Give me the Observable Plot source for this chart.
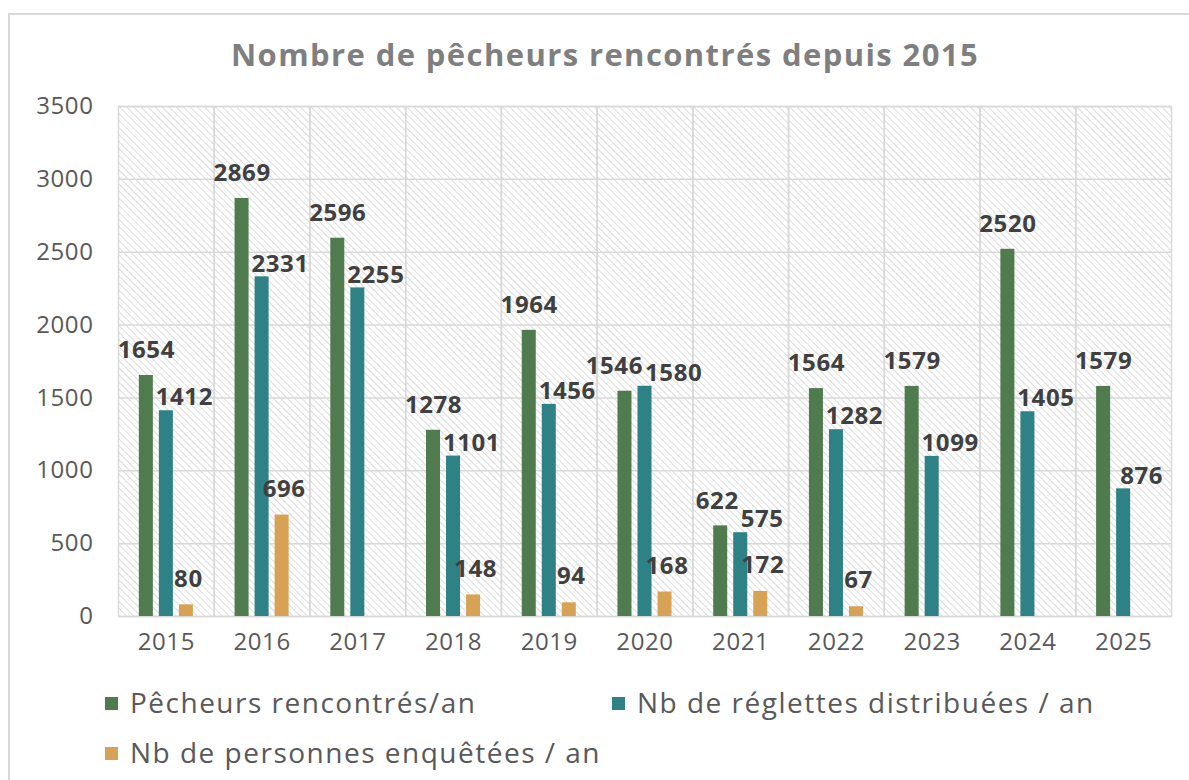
<!DOCTYPE html>
<html><head><meta charset="utf-8">
<script src="https://cdn.jsdelivr.net/npm/d3@7"></script>
<script src="https://cdn.jsdelivr.net/npm/@observablehq/plot@0.6"></script>
<style>
html,body{margin:0;padding:0;width:1189px;height:780px;overflow:hidden;background:#fff;font-family:"Open Sans",sans-serif;}
#border{position:absolute;left:8px;top:13px;width:1400px;height:1000px;border:2px solid #d9d9d9;box-sizing:border-box;}
#title{position:absolute;left:0;width:1210px;top:39px;text-align:center;font-size:31px;font-weight:700;color:#7f7f7f;line-height:1;letter-spacing:1.4px;}
#chart{position:absolute;left:0;top:80px;}
.leg{position:absolute;font-size:28px;color:#595959;line-height:1;white-space:nowrap;letter-spacing:1.5px;}
.leg span.sw{display:inline-block;width:13px;height:13px;margin-right:12px;vertical-align:middle;position:relative;top:-2px;}
</style></head>
<body>
<div id="border"></div>
<div id="title">Nombre de pêcheurs rencontrés depuis 2015</div>
<div id="chart"></div>
<div id="legend"></div>
<script>
const years = ["2015","2016","2017","2018","2019","2020","2021","2022","2023","2024","2025"];
const seriesNames = ["Pêcheurs rencontrés/an", "Nb de réglettes distribuées / an", "Nb de personnes enquêtées / an"];
const pecheurs = [1654, 2869, 2596, 1278, 1964, 1546, 622, 1564, 1579, 2520, 1579];
const reglettes = [1412, 2331, 2255, 1101, 1456, 1580, 575, 1282, 1099, 1405, 876];
const enquetes = [80, 696, null, 148, 94, 168, 172, 67, null, null, null];
const colors = ["#4f7b4f", "#2e8285", "#d8a254"];
const yTicks = [0, 500, 1000, 1500, 2000, 2500, 3000, 3500];

const seriesValues = [pecheurs, reglettes, enquetes];
const rows = years.flatMap((y, i) => seriesNames.map((s, j) => ({year: y, series: s, value: seriesValues[j][i]})))
  .filter(d => d.value != null);

const labelStyle = [{dx: 0, dy: -25}, {dx: 18, dy: -13}, {dx: 2, dy: -26}];
const labelMarks = seriesNames.map((s, j) => Plot.text(rows.filter(d => d.series === s), {
  fx: "year", x: "series", y: "value", text: d => String(d.value),
  dx: labelStyle[j].dx, dy: labelStyle[j].dy,
  fontSize: 24, fontWeight: 700, fill: "#404040"
}));

const chart = Plot.plot({
  width: 1189, height: 600,
  marginTop: 26, marginBottom: 64, marginLeft: 118, marginRight: 18,
  style: {fontFamily: '"Open Sans", sans-serif', fontSize: "24px", color: "#595959", background: "transparent", overflow: "visible", letterSpacing: "0.6px"},
  fx: {domain: years, padding: 0, round: false, label: null, axis: "bottom", tickSize: 0, tickPadding: 16},
  x: {domain: seriesNames, paddingInner: 0.3, paddingOuter: 1.04, round: false, axis: null},
  y: {domain: [0, 3500], ticks: yTicks, tickSize: 0, tickPadding: 25, label: null, tickFormat: d => String(d)},
  color: {domain: seriesNames, range: colors},
  marks: [
    Plot.frame({fill: "url(#hatch)", stroke: null}),
    Plot.gridY(yTicks, {stroke: "#d9d9d9", strokeOpacity: 1, strokeWidth: 1.5}),
    Plot.frame({stroke: "#d9d9d9", strokeWidth: 1.5}),
    Plot.barY(rows, {fx: "year", x: "series", y: "value", fill: "series"}),
    ...labelMarks
  ]
});
d3.select(chart).insert("defs", ":first-child").html(
  '<pattern id="hatch" patternUnits="userSpaceOnUse" width="5" height="5" patternTransform="rotate(-45)">' +
  '<rect width="5" height="5" fill="#ffffff"/>' +
  '<line x1="0" y1="0" x2="0" y2="5" stroke="#d4d4d4" stroke-width="1.6"/></pattern>');
document.getElementById("chart").appendChild(chart);

// simple collision avoidance between neighbouring value labels (like the spreadsheet's placement)
const textGroups = chart.querySelectorAll('g[aria-label="text"]');
if (textGroups.length >= 2) {
  const byX = g => Array.from(g.querySelectorAll("text"))
    .map(el => ({el, r: el.getBoundingClientRect()})).sort((a, b) => a.r.left - b.r.left);
  const g0 = byX(textGroups[0]), g1 = byX(textGroups[1]);
  const shift = (el, s) => el.setAttribute("transform", `translate(${s},0) ${el.getAttribute("transform") || ""}`);
  g0.forEach((a, i) => {
    const b = g1[i];
    if (!b) return;
    const ov = a.r.right - b.r.left + 2;
    const vov = Math.min(a.r.bottom, b.r.bottom) - Math.max(a.r.top, b.r.top);
    if (ov > 0 && vov > 6) { shift(a.el, -ov / 2); shift(b.el, ov / 2); }
  });
}

const legendPos = [{x: 105, y: 702}, {x: 612, y: 702}, {x: 105, y: 752}];
const legend = document.getElementById("legend");
seriesNames.forEach((s, j) => {
  const d = document.createElement("div");
  d.className = "leg";
  d.style.left = legendPos[j].x + "px";
  d.style.top = (legendPos[j].y - 14) + "px";
  d.innerHTML = `<span class="sw" style="background:${colors[j]}"></span>${s}`;
  legend.appendChild(d);
});
</script>
</body></html>
